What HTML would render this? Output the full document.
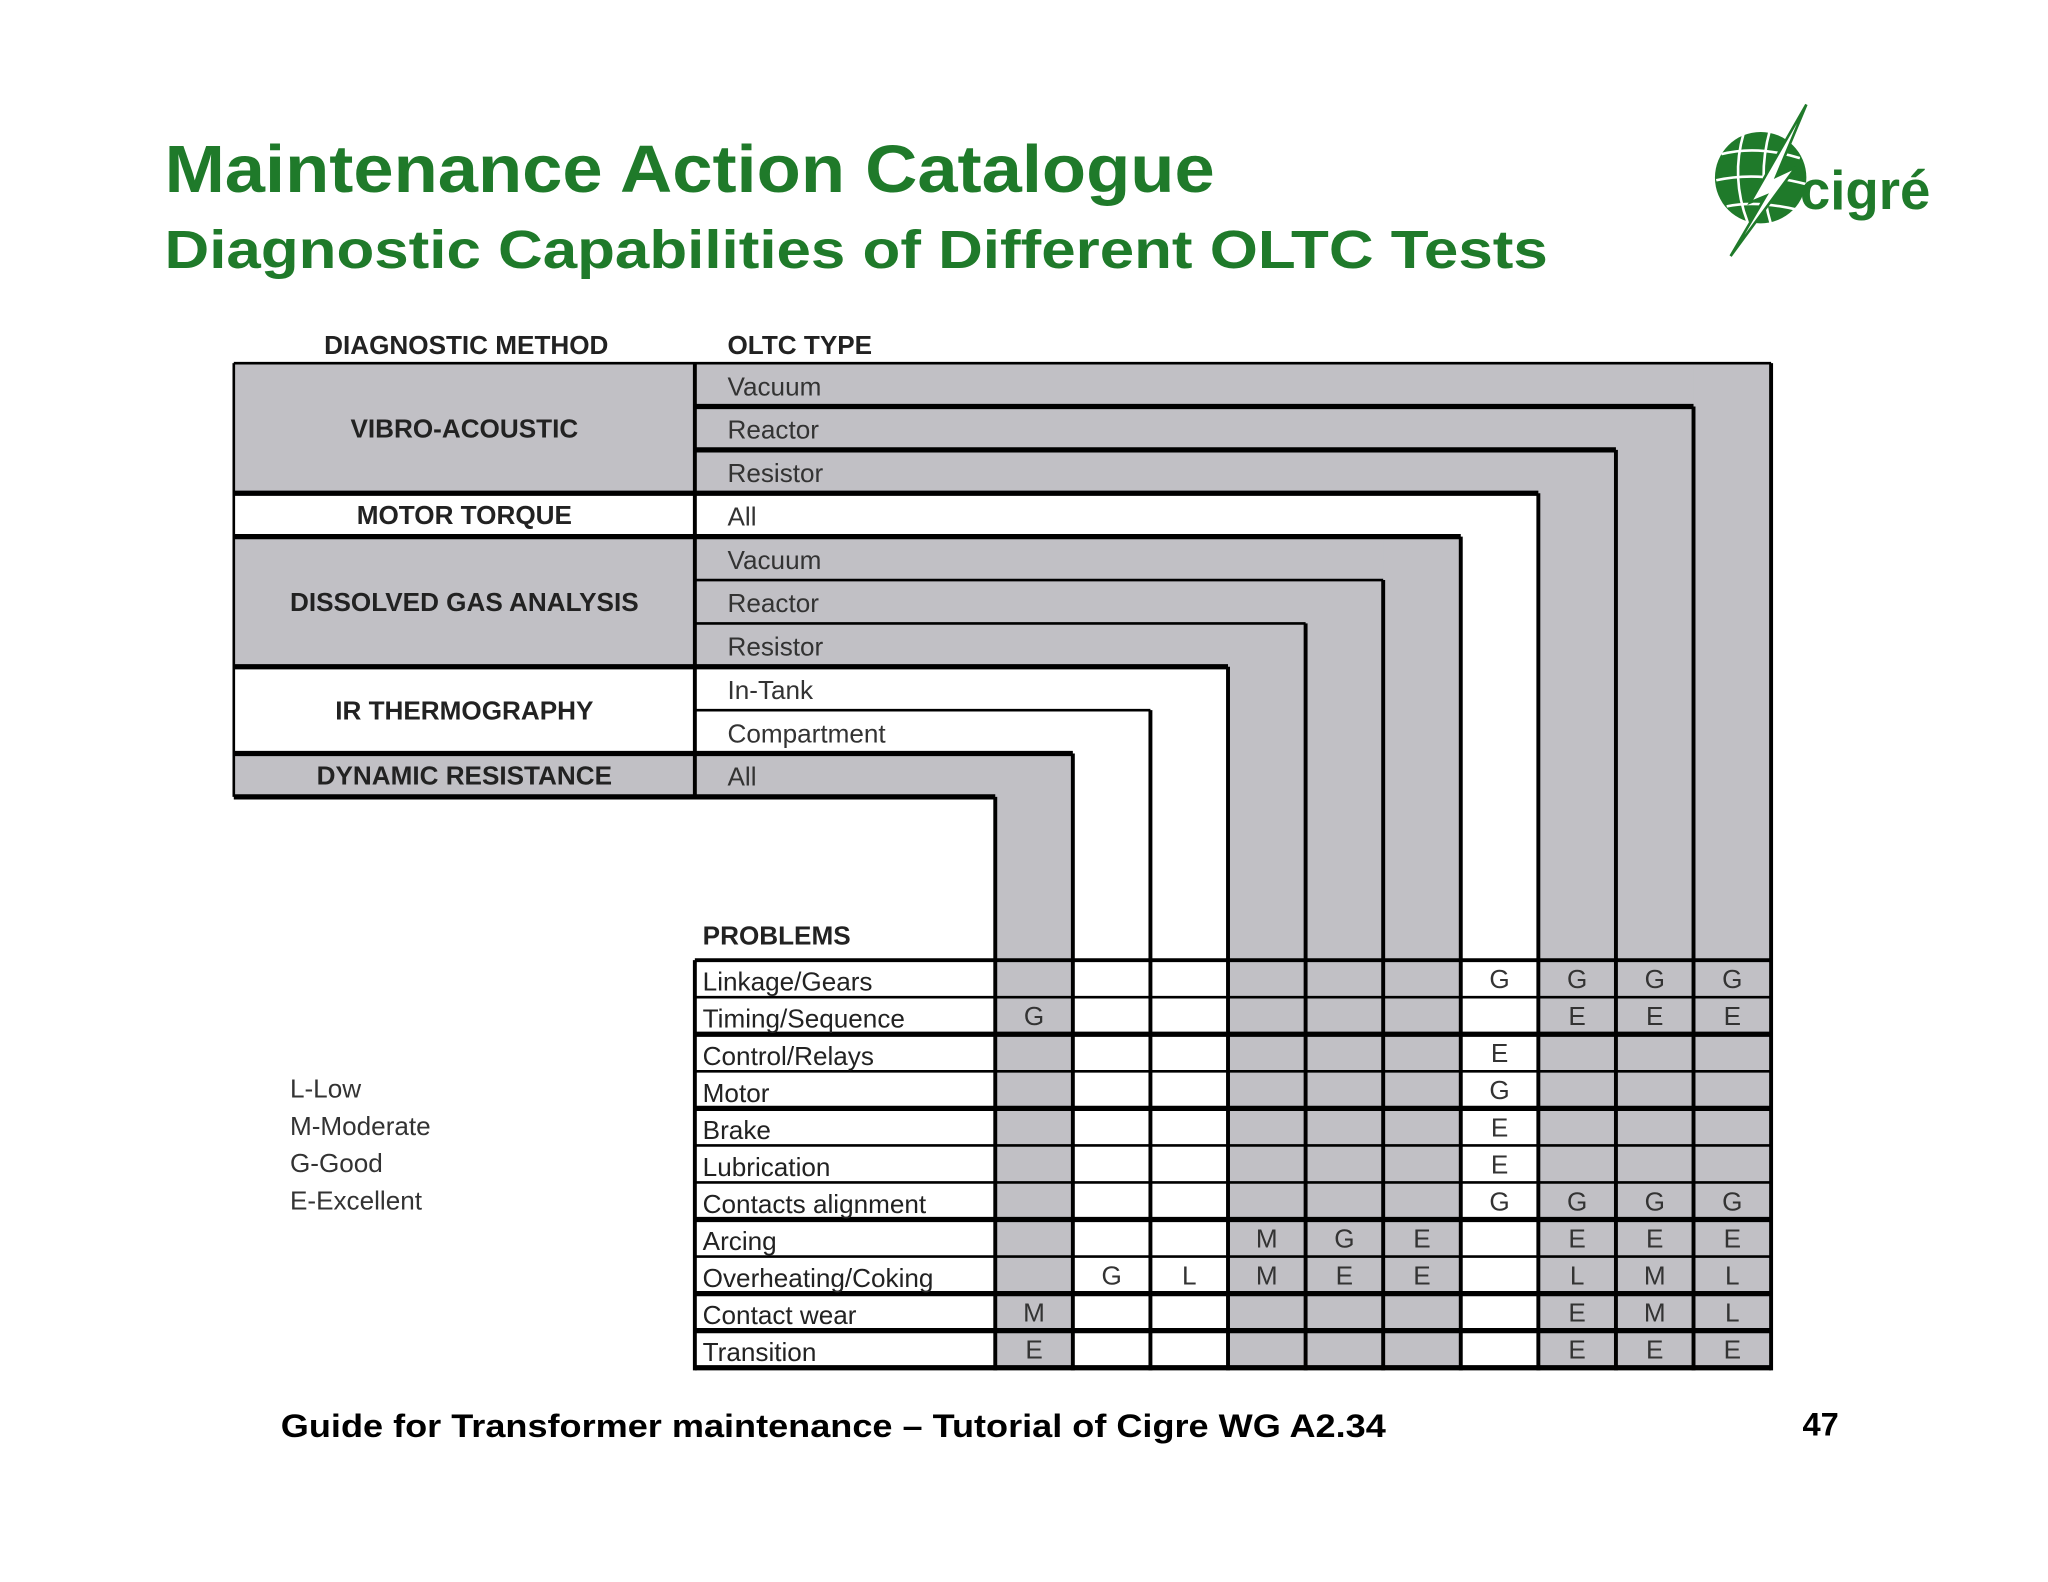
<!DOCTYPE html>
<html><head><meta charset="utf-8"><style>
html,body{margin:0;padding:0;background:#fff;}
svg{display:block;}
text{font-family:"Liberation Sans",Arial,sans-serif;}
</style></head><body>
<svg id="chart" width="2048" height="1582" viewBox="0 0 1568 1211" preserveAspectRatio="none" xmlns="http://www.w3.org/2000/svg">
<rect width="1568" height="1211" fill="#fff"/>
<text x="126" y="147" font-size="51" font-weight="bold" fill="#1f7a2a" textLength="804" lengthAdjust="spacingAndGlyphs">Maintenance Action Catalogue</text>
<text x="126" y="205" font-size="41" font-weight="bold" fill="#1f7a2a" textLength="1059" lengthAdjust="spacingAndGlyphs">Diagnostic Capabilities of Different OLTC Tests</text>
<g>
<circle cx="1348" cy="136" r="35" fill="#1f7a2a"/>
<g stroke="#fff" stroke-width="2" fill="none">
<path d="M1318 118 Q1345 111 1378 121"/><path d="M1314 138 Q1345 131 1383 141"/><path d="M1322 158 Q1345 153 1378 161"/>
<path d="M1335 102 Q1325 136 1338 170"/><path d="M1355 100 Q1345 136 1356 172"/>
</g>
<polygon points="1383,80 1360,135 1375,128 1325,196 1352,150 1340,155" fill="#fff" stroke="#1f7a2a" stroke-width="2"/>
<text x="1378" y="160" font-size="42" font-weight="bold" fill="#1f7a2a" textLength="100" lengthAdjust="spacingAndGlyphs">cigré</text>
</g>
<g id="grid"></g>
<text x="222" y="840" font-size="20" fill="#333">L-Low</text>
<text x="222" y="869" font-size="20" fill="#333">M-Moderate</text>
<text x="222" y="897" font-size="20" fill="#333">G-Good</text>
<text x="222" y="926" font-size="20" fill="#333">E-Excellent</text>
<text x="215" y="1100" font-size="25" font-weight="bold" fill="#000" textLength="846" lengthAdjust="spacingAndGlyphs">Guide for Transformer maintenance – Tutorial of Cigre WG A2.34</text>
<text x="1380" y="1099" font-size="25" font-weight="bold" fill="#000">47</text>
</svg>
<script>
const methods = ["VIBRO-ACOUSTIC","MOTOR TORQUE","DISSOLVED GAS ANALYSIS","IR THERMOGRAPHY","DYNAMIC RESISTANCE"];
const methodSpans = [3,1,3,2,1];
const methodGray = [1,0,1,0,1];
const oltcTypes = ["Vacuum","Reactor","Resistor","All","Vacuum","Reactor","Resistor","In-Tank","Compartment","All"];
const problems = ["Linkage/Gears","Timing/Sequence","Control/Relays","Motor","Brake","Lubrication","Contacts alignment","Arcing","Overheating/Coking","Contact wear","Transition"];
// ratings per problem, columns left->right (DR-All ... VA-Vacuum)
const ratings = [
 ["","","","","","","G","G","G","G"],
 ["G","","","","","","","E","E","E"],
 ["","","","","","","E","","",""],
 ["","","","","","","G","","",""],
 ["","","","","","","E","","",""],
 ["","","","","","","E","","",""],
 ["","","","","","","G","G","G","G"],
 ["","","","M","G","E","","E","E","E"],
 ["","G","L","M","E","E","","L","M","L"],
 ["M","","","","","","","E","M","L"],
 ["E","","","","","","","E","E","E"]
];
const thickAfterProblem = [0,1,0,1,0,0,1,0,1,1,1];
const G = document.getElementById('grid');
const NS = "http://www.w3.org/2000/svg";
const L = 179, MID = 532, COL0 = 762, CW = 59.4, NC = 10;
const TOP = 278, RH = 33.2, PTOP = 735, PRH = 28.36;
const GRAY = "#c1c0c5";
const colX = i => COL0 + i * CW;
const rowY = i => TOP + i * RH;
const pY = i => PTOP + i * PRH;
const nRows = oltcTypes.length;
const BOTTOM = pY(problems.length);
function mk(tag, a, parent){const e=document.createElementNS(NS,tag);for(const k in a)e.setAttribute(k,a[k]);(parent||G).appendChild(e);return e;}
function rowGray(i){let s=0;for(let m=0;m<methods.length;m++){if(i<s+methodSpans[m])return methodGray[m];s+=methodSpans[m];}return 0;}
for(let i=0;i<nRows;i++){
  const c = NC-1-i, g = rowGray(i);
  const fill = g?GRAY:"#fff";
  const r1 = mk('rect',{x:MID,y:rowY(i),width:colX(c+1)-MID,height:RH,fill:fill});
  
  
  const r2 = mk('rect',{x:colX(c),y:rowY(i),width:CW,height:BOTTOM-rowY(i),fill:fill});
  
  
}
let s=0;
for(let m=0;m<methods.length;m++){
  const y0=rowY(s), h=methodSpans[m]*RH;
  const r=mk('rect',{x:L,y:y0,width:MID-L,height:h,fill:methodGray[m]?GRAY:"#fff"});
  
  
  const t=mk('text',{x:(L+MID)/2,y:y0+h/2+7,'font-size':20,'font-weight':'bold','text-anchor':'middle',fill:'#222'});
  t.textContent=methods[m];
  
  
  s+=methodSpans[m];
}
mk('rect',{x:MID,y:PTOP,width:COL0-MID,height:BOTTOM-PTOP,fill:'#fff'});
const groupStarts=[0,3,4,7,9,10];
for(let i=0;i<=nRows;i++){
  const isGroup = groupStarts.includes(i);
  const x1 = isGroup ? L : MID;
  const x2 = i<nRows ? colX(NC-i) : colX(0);
  const ln=mk('line',{x1:x1,y1:rowY(i),x2:x2,y2:rowY(i),stroke:'#000','stroke-width':(i===0||i===2||i===1||isGroup)?(i===0?2:4):2});
  
  
}
mk('line',{x1:L,y1:TOP,x2:L,y2:rowY(nRows),stroke:'#000','stroke-width':2});
mk('line',{x1:MID,y1:TOP,x2:MID,y2:rowY(nRows),stroke:'#000','stroke-width':3});
for(let c=0;c<=NC;c++){
  const ytop = c===0 ? rowY(nRows) : rowY(NC-c);
  const ln=mk('line',{x1:colX(c),y1:ytop,x2:colX(c),y2:BOTTOM+2,stroke:'#000','stroke-width':3});
  
  
}
for(let i=0;i<nRows;i++){
  const t=mk('text',{x:557,y:rowY(i)+RH/2+8,'font-size':20,fill:'#333'});
  t.textContent=oltcTypes[i];
  
  
}
const h1=mk('text',{x:357,y:271,'font-size':20,'text-anchor':'middle','font-weight':'bold',fill:'#222'});h1.textContent="DIAGNOSTIC METHOD";

const h2=mk('text',{x:557,y:271,'font-size':20,'font-weight':'bold',fill:'#222'});h2.textContent="OLTC TYPE";

const h3=mk('text',{x:538,y:723,'font-size':20,'font-weight':'bold',fill:'#222'});h3.textContent="PROBLEMS";

for(let p=0;p<=problems.length;p++){
  const th = p===0 ? 3 : (thickAfterProblem[p-1]?4:2);
  mk('line',{x1:MID,y1:pY(p),x2:colX(NC),y2:pY(p),stroke:'#000','stroke-width':th});
}
mk('line',{x1:MID,y1:PTOP,x2:MID,y2:BOTTOM+2,stroke:'#000','stroke-width':3});
for(let p=0;p<problems.length;p++){
  const t=mk('text',{x:538,y:pY(p)+PRH-5,'font-size':20,fill:'#222'});
  t.textContent=problems[p];
  
  
  for(let c=0;c<NC;c++){
    if(!ratings[p][c])continue;
    const r=mk('text',{x:colX(c)+CW/2,y:pY(p)+PRH-7,'font-size':20,'text-anchor':'middle',fill:'#333'});
    r.textContent=ratings[p][c];
    
    
  }
}
</script>
</body></html>
